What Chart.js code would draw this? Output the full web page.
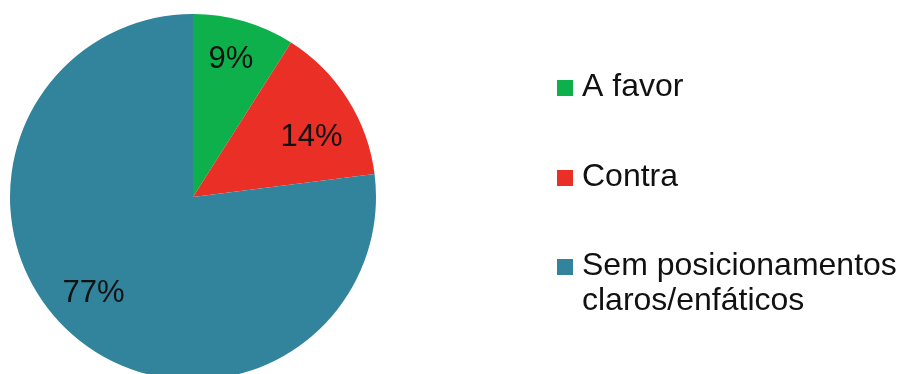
<!DOCTYPE html>
<html>
<head>
<meta charset="utf-8">
<script src="https://cdn.jsdelivr.net/npm/chart.js@4"></script>
<style>
  html, body { margin: 0; padding: 0; background: #fff; overflow: hidden; }
  #grafico { display: block; }
</style>
</head>
<body>
<canvas id="grafico" width="909" height="400"></canvas>
<script>
// DATOS
const categorias = ["A favor", "Contra", "Sem posicionamentos claros/enfáticos"];
const lineasLeyenda = [["A favor"], ["Contra"], ["Sem posicionamentos", "claros/enfáticos"]];
const porcentajes = [9, 14, 77];
const colores = ["#0db04b", "#e92f26", "#31849b"];

const FUENTE = "'Liberation Sans', Arial, sans-serif";

// Etiquetas de porcentaje dentro de cada porción
// (pequeño ajuste de ángulo/radio como el "mejor ajuste" de Excel)
const ajusteAngulo = [-1, 5, 5];
const ajusteRadio = [0.79, 0.73, 0.75];

const etiquetasPorcion = {
    id: "etiquetasPorcion",
    afterDatasetsDraw(chart) {
        const ctx = chart.ctx;
        const meta = chart.getDatasetMeta(0);
        ctx.save();
        ctx.fillStyle = "#111";
        ctx.font = "31px " + FUENTE;
        ctx.textAlign = "center";
        ctx.textBaseline = "middle";
        meta.data.forEach((arc, i) => {
            const p = arc.getProps(["x", "y", "startAngle", "endAngle", "outerRadius"], true);
            const medio = (p.startAngle + p.endAngle) / 2 + ajusteAngulo[i] * Math.PI / 180;
            const r = p.outerRadius * ajusteRadio[i];
            ctx.fillText(porcentajes[i] + "%", p.x + Math.cos(medio) * r, p.y + Math.sin(medio) * r + 2);
        });
        ctx.restore();
    }
};

// Leyenda dibujada a mano (permite textos en dos líneas)
const leyenda = {
    id: "leyenda",
    afterDraw(chart) {
        const ctx = chart.ctx;
        const bases = [96, 186, 275];
        ctx.save();
        ctx.font = "32px " + FUENTE;
        ctx.textBaseline = "alphabetic";
        ctx.textAlign = "left";
        lineasLeyenda.forEach((lineas, i) => {
            ctx.fillStyle = colores[i];
            ctx.fillRect(557, bases[i] - 16, 16, 16);
            ctx.fillStyle = "#111";
            lineas.forEach((t, j) => ctx.fillText(t, 582, bases[i] + j * 35));
        });
        ctx.restore();
    }
};

addEventListener("DOMContentLoaded", () => {
    let ctx = document.getElementById("grafico").getContext("2d");
    window.miGrafica = new Chart(ctx, {
        type: "pie",
        data: {
            labels: categorias,
            datasets: [{
                data: porcentajes,
                backgroundColor: colores,
                borderWidth: 0
            }]
        },
        options: {
            responsive: false,
            animation: false,
            layout: { padding: { left: 10, top: 14, right: 533, bottom: 20 } },
            plugins: {
                legend: { display: false },
                tooltip: { enabled: false }
            }
        },
        plugins: [etiquetasPorcion, leyenda]
    });
});
</script>
</body>
</html>
